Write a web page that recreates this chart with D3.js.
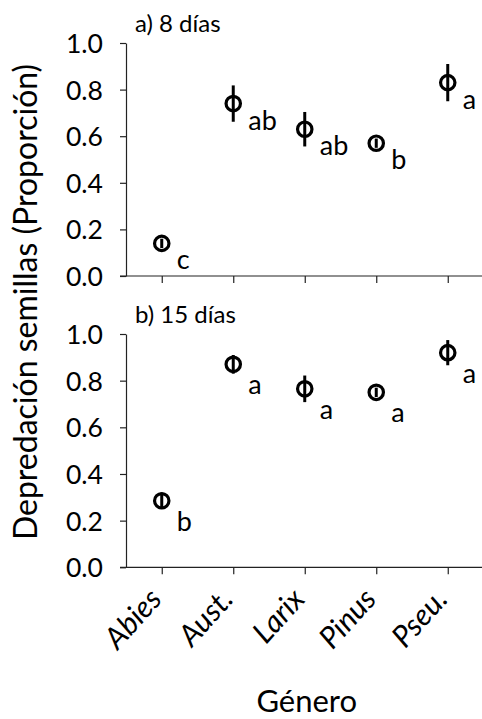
<!DOCTYPE html>
<html>
<head>
<meta charset="utf-8">
<script src="https://cdn.jsdelivr.net/npm/d3@7"></script>
<style>
  html, body { margin: 0; padding: 0; background: #fff; }
  svg { display: block; }
  text { font-family: Lato, "Open Sans", sans-serif; fill: #000; }
</style>
</head>
<body>
<script>
// Seed predation by genus, two exposure times
const categories = ["Abies", "Aust.", "Larix", "Pinus", "Pseu."];
const panelTitles = ["a) 8 días", "b) 15 días"];
const yTicks = [0, 0.2, 0.4, 0.6, 0.8, 1.0];

const mean8 = [0.14, 0.74, 0.63, 0.57, 0.83];
const se8 = [0.02, 0.078, 0.074, 0.02, 0.08];
const letters8 = ["c", "ab", "ab", "b", "a"];

const mean15 = [0.285, 0.87, 0.765, 0.75, 0.92];
const se15 = [0.035, 0.04, 0.057, 0.02, 0.054];
const letters15 = ["b", "a", "a", "a", "a"];

const yTitle = "Depredación semillas (Proporción)";
const xTitle = "Género";

const W = 482, H = 719;
const svg = d3.select("body").append("svg").attr("width", W).attr("height", H);

const x = d3.scaleLinear().domain([-0.5, 4.5]).range([126, 483.5]);

const panels = [
  { title: panelTitles[0], mean: mean8, se: se8, letters: letters8, top: 43, bottom: 276, labelDy: 26 },
  { title: panelTitles[1], mean: mean15, se: se15, letters: letters15, top: 334, bottom: 567.3, labelDy: 30 }
];

const axisColor = "#222";
const font = "Lato, 'Open Sans', sans-serif";

panels.forEach((p, pi) => {
  const y = d3.scaleLinear().domain([0, 1]).range([p.bottom, p.top]);
  const g = svg.append("g");

  // y axis
  g.append("g")
    .attr("transform", `translate(${x(-0.5)},0)`)
    .call(d3.axisLeft(y).tickValues(yTicks).tickFormat(d3.format(".1f"))
      .tickSize(6).tickSizeOuter(0).tickPadding(17))
    .call(a => a.select(".domain").attr("stroke", axisColor).attr("stroke-width", 1.2))
    .call(a => a.selectAll(".tick line").attr("stroke", axisColor).attr("stroke-width", 1.2))
    .call(a => a.selectAll(".tick text")
      .style("font-family", font)
      .style("font-size", "26.5px").attr("fill", "#000").attr("dy", "0.36em"));

  // x axis
  const xa = g.append("g")
    .attr("transform", `translate(0,${p.bottom})`)
    .call(d3.axisBottom(x).tickValues(d3.range(categories.length))
      .tickFormat(pi === 1 ? (i => categories[i]) : () => "")
      .tickSize(7).tickSizeOuter(0))
    .call(a => a.select(".domain").attr("d", `M${x(-0.5) - 6},0H${x(4.5)}`)
      .attr("stroke", axisColor).attr("stroke-width", 1.2))
    .call(a => a.selectAll(".tick line").attr("stroke", axisColor).attr("stroke-width", 1.2));

  if (pi === 1) {
    xa.selectAll(".tick text")
      .style("font-family", font)
      .style("font-size", "30px").style("font-style", "italic")
      .attr("fill", "#000")
      .attr("text-anchor", "end")
      .attr("y", 0).attr("dy", 0)
      .attr("transform", "translate(1,33) rotate(-48)");
  }

  // panel title
  g.append("text")
    .attr("x", 135).attr("y", p.top - 11)
    .style("font-size", "24px")
    .text(p.title);

  const idx = d3.range(categories.length);

  // error bars
  g.selectAll("line.err").data(idx).join("line")
    .attr("class", "err")
    .attr("x1", i => x(i)).attr("x2", i => x(i))
    .attr("y1", i => y(p.mean[i] + p.se[i]))
    .attr("y2", i => y(p.mean[i] - p.se[i]))
    .attr("stroke", "#000").attr("stroke-width", 3);

  // hollow markers
  g.selectAll("circle.pt").data(idx).join("circle")
    .attr("class", "pt")
    .attr("cx", i => x(i)).attr("cy", i => y(p.mean[i]))
    .attr("r", 7.2)
    .attr("fill", "none").attr("stroke", "#000").attr("stroke-width", 3.2);

  // significance letters
  g.selectAll("text.sig").data(idx).join("text")
    .attr("class", "sig")
    .attr("x", i => x(i) + 15)
    .attr("y", i => y(p.mean[i]) + p.labelDy)
    .style("font-size", "27px")
    .text(i => p.letters[i]);
});

// axis titles
svg.append("text")
  .attr("transform", "translate(37,302) rotate(-90)")
  .attr("text-anchor", "middle")
  .style("font-size", "32px")
  .text(yTitle);

svg.append("text")
  .attr("x", x(2) + 2).attr("y", 712)
  .attr("text-anchor", "middle")
  .style("font-size", "31px")
  .text(xTitle);
</script>
</body>
</html>
